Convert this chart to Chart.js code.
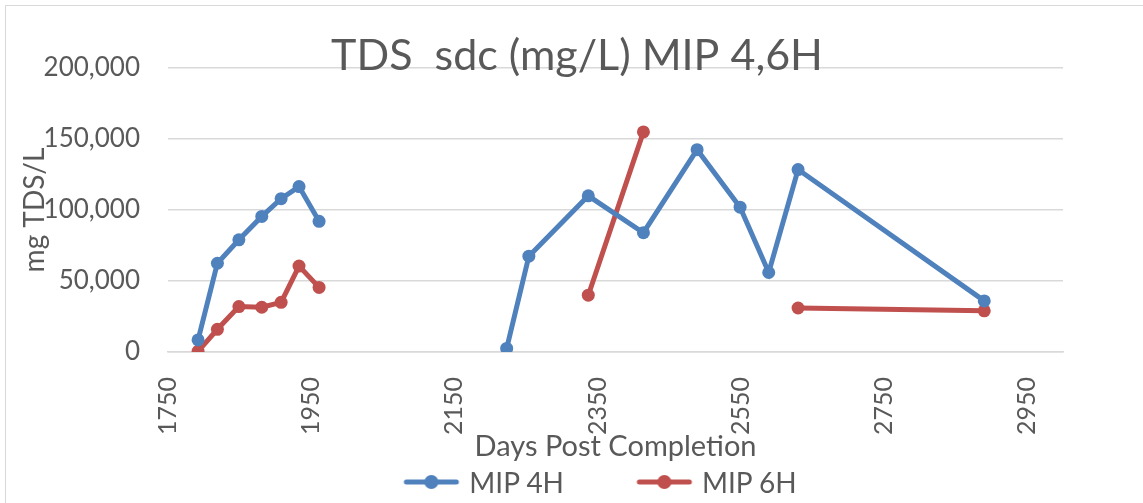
<!DOCTYPE html>
<html>
<head>
<meta charset="utf-8">
<title>TDS sdc MIP 4,6H</title>
<script src="https://cdn.jsdelivr.net/npm/chart.js@4.4.1/dist/chart.umd.min.js"></script>
<style>
  html, body { margin: 0; padding: 0; background: #fff; }
  #wrap { position: relative; width: 1143px; height: 503px; overflow: hidden; font-family: Lato, sans-serif; }
  #frame { position: absolute; left: 5px; top: 5px; width: 1170px; height: 530px; border: 1.5px solid #d9d9d9; box-sizing: border-box; }
  canvas#tdsChart { position: absolute; left: 0; top: 0; }
  #legend { position: absolute; left: 600px; top: 465px; transform: translateX(-50%); display: flex; white-space: nowrap; }
  #legend .item { display: flex; align-items: center; font-size: 28px; line-height: 34px; color: #595959; }
  #legend .item + .item { margin-left: 72px; }
  #legend canvas { margin-right: 10px; }
</style>
</head>
<body>
<div id="wrap">
  <div id="frame"></div>
  <canvas id="tdsChart" width="1143" height="503"></canvas>
  <div id="legend"></div>
</div>
<script>
const chartTitle = 'TDS  sdc (mg/L) MIP 4,6H';
const seriesNames = ['MIP 4H', 'MIP 6H'];
const seriesColors = ['#4F81BD', '#C0504D'];

// days post completion (null row = no sample, breaks the lines)
const days = [1792, 1819, 1849, 1881, 1908, 1933, 1961, 2090, 2223, 2254, 2337, 2414, 2489, 2549, 2589, 2630, 2890];
const mip4h = [8500, 62500, 79000, 95500, 108000, 116500, 92000, null, 2500, 67500, 110000, 84000, 142500, 102000, 56000, 128500, 36000];
const mip6h = [500, 16000, 32000, 31500, 35000, 60500, 45500, null, null, null, 40000, 155000, null, null, null, 31000, 29000];

const xTicks = [1750, 1950, 2150, 2350, 2550, 2750, 2950];

const textColor = '#595959';
const gridColor = '#d9d9d9';

Chart.defaults.font.family = 'Lato';
Chart.defaults.color = textColor;

function legendMarker(color) {
    const c = document.createElement('canvas');
    c.width = 56;
    c.height = 16;
    const g = c.getContext('2d');
    g.strokeStyle = color;
    g.lineWidth = 5;
    g.lineCap = 'round';
    g.beginPath();
    g.moveTo(3, 8);
    g.lineTo(53, 8);
    g.stroke();
    g.fillStyle = color;
    g.beginPath();
    g.arc(28, 8, 7, 0, Math.PI * 2);
    g.fill();
    return c;
}

// excel puts the title over the plot, centred on the whole chart
const titlePlugin = {
    id: 'excelTitle',
    afterDraw(chart) {
        const ctx = chart.ctx;
        ctx.save();
        ctx.font = '43px Lato';
        ctx.fillStyle = textColor;
        ctx.textAlign = 'center';
        ctx.textBaseline = 'alphabetic';
        ctx.fillText(chartTitle, 577, 70);
        ctx.restore();
    }
};

// line + marker legend like excel, built from the chart's own legend items
const htmlLegend = {
    id: 'htmlLegend',
    afterUpdate(chart) {
        const box = document.getElementById('legend');
        box.innerHTML = '';
        chart.options.plugins.legend.labels.generateLabels(chart).forEach((item) => {
            const row = document.createElement('div');
            row.className = 'item';
            row.appendChild(legendMarker(item.strokeStyle));
            const label = document.createElement('span');
            label.textContent = item.text;
            row.appendChild(label);
            box.appendChild(row);
        });
    }
};

function series(values) {
    return days.map((d, i) => ({ x: d, y: values[i] }));
}

const tdsChart = new Chart(document.getElementById('tdsChart'), {
    type: 'line',
    data: {
        datasets: [mip4h, mip6h].map((vals, i) => ({
            label: seriesNames[i],
            data: series(vals),
            borderColor: seriesColors[i],
            backgroundColor: seriesColors[i],
            borderWidth: 5,
            pointRadius: 6.5,
            pointBorderWidth: 0,
            pointHoverRadius: 6.5,
            spanGaps: false,
            tension: 0
        }))
    },
    options: {
        responsive: false,
        animation: false,
        layout: { padding: { left: 0, right: 80, top: 68, bottom: 58 } },
        plugins: {
            title: { display: false },
            tooltip: { enabled: false },
            legend: { display: false }
        },
        scales: {
            x: {
                type: 'linear',
                min: 1750,
                max: 3000,
                afterBuildTicks(scale) {
                    scale.ticks = xTicks.map(v => ({ value: v }));
                },
                afterFit(scale) { scale.height = 93; },
                grid: { display: false },
                border: { color: gridColor, width: 1.5 },
                ticks: {
                    autoSkip: false,
                    minRotation: 90,
                    maxRotation: 90,
                    padding: 17,
                    font: { size: 25 },
                    callback: v => String(v)
                },
                title: {
                    display: true,
                    text: 'Days Post Completion',
                    font: { size: 29 },
                    padding: { top: 0, bottom: -19 }
                }
            },
            y: {
                min: 0,
                max: 200000,
                afterFit(scale) { scale.width = 168; },
                grid: { color: gridColor, lineWidth: 1.5, drawTicks: false },
                border: { display: false },
                ticks: {
                    stepSize: 50000,
                    padding: 28,
                    font: { size: 26 }
                },
                title: {
                    display: true,
                    text: 'mg TDS/L',
                    font: { size: 28 },
                    padding: { top: 18, bottom: 0 }
                }
            }
        }
    },
    plugins: [titlePlugin, htmlLegend]
});
</script>
</body>
</html>
